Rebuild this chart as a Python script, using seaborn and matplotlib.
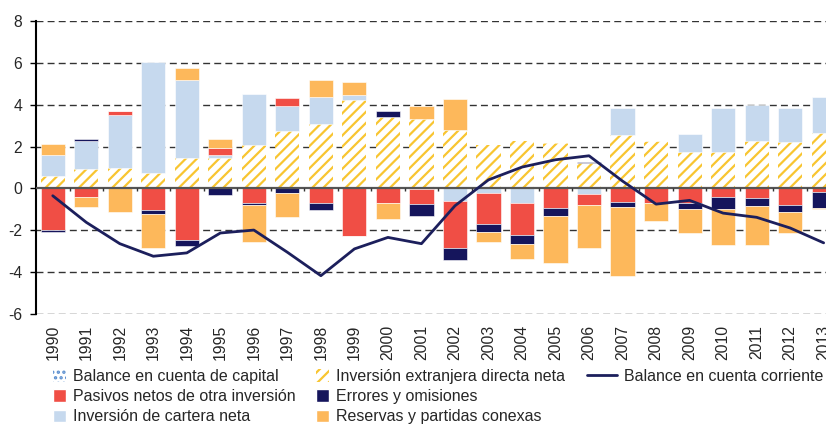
import numpy as np
import pandas as pd
import matplotlib
matplotlib.use("Agg")
import matplotlib.pyplot as plt
import seaborn as sns
from matplotlib.patches import Patch
from matplotlib.lines import Line2D

# balanza de pagos, % del PIB
years = list(range(1990, 2014))

capital = [0, 0, 0, 0, 0, 0, 0, 0, 0, 0, 0, 0, 0, 0, 0, 0,
           0.08, 0.08, 0.08, 0.08, 0.08, 0, 0, 0]
ied = [0.60, 0.92, 0.99, 0.75, 1.46, 1.46, 2.08, 2.75, 3.08, 4.23, 3.40, 3.31,
       2.80, 2.07, 2.29, 2.19, 1.13, 2.48, 2.19, 1.68, 1.65, 2.27, 2.23, 2.64]
cartera = [1.00, 1.37, 2.51, 5.29, 3.74, 0.14, 2.42, 1.19, 1.28, 0.24, 0, -0.05,
           -0.60, -0.20, -0.70, 0, -0.29, 1.27, 0, 0.85, 2.12, 1.70, 1.59, 1.73]
pasivos = [-2.00, -0.40, 0.20, -1.02, -2.45, 0.32, -0.70, 0.40, -0.72, -2.26, -0.70, -0.71,
           -2.23, -1.51, -1.54, -0.92, -0.51, -0.64, -0.72, -0.70, -0.43, -0.46, -0.78, -0.19]
errores = [-0.08, 0.08, 0, -0.20, -0.32, -0.32, -0.10, -0.24, -0.32, -0.03, 0.32, -0.57,
           -0.60, -0.38, -0.40, -0.41, 0.03, -0.24, 0, -0.29, -0.54, -0.37, -0.33, -0.73]
reservas = [0.53, -0.51, -1.14, -1.64, 0.57, 0.45, -1.76, -1.13, 0.81, 0.62, -0.75, 0.63,
            1.48, -0.48, -0.73, -2.24, -2.05, -3.32, -0.86, -1.15, -1.75, -1.86, -1.02, -0.06]
cuenta_corriente = [-0.35, -1.62, -2.64, -3.24, -3.08, -2.13, -1.99, -3.05, -4.17, -2.89,
                    -2.34, -2.64, -0.83, 0.41, 1.02, 1.37, 1.56, 0.35, -0.75, -0.57,
                    -1.18, -1.38, -1.89, -2.60]

labels = {
    "capital": "Balance en cuenta de capital",
    "pasivos": "Pasivos netos de otra inversión",
    "cartera": "Inversión de cartera neta",
    "ied": "Inversión extranjera directa neta",
    "errores": "Errores y omisiones",
    "reservas": "Reservas y partidas conexas",
    "cc": "Balance en cuenta corriente",
}

RED = "#F04E45"
LIGHT_BLUE = "#C6D9EE"
ORANGE = "#FDB85B"
NAVY = "#15155C"
YELLOW = "#F8C531"
DOT_BLUE = "#5B8FCF"
LINE = "#1C1F5C"

sns.set_theme(style="white")
plt.rcParams["font.family"] = ["Liberation Sans", "DejaVu Sans"]
plt.rcParams["hatch.linewidth"] = 1.6

fig = plt.figure(figsize=(8.26, 4.26), dpi=100)
ax = fig.add_axes([36 / 826, 1 - 314 / 426, 1 - 36 / 826, (314 - 21) / 426])

x = np.arange(len(years))
width = 0.72

layers = [
    (capital, dict(facecolor="white", edgecolor=DOT_BLUE, hatch="...", linewidth=0)),
    (ied, dict(facecolor="white", edgecolor=YELLOW, hatch="///", linewidth=0)),
    (cartera, dict(color=LIGHT_BLUE, edgecolor="white", linewidth=0.4)),
    (pasivos, dict(color=RED, edgecolor="white", linewidth=0.4)),
    (errores, dict(color=NAVY, edgecolor="white", linewidth=0.4)),
    (reservas, dict(color=ORANGE, edgecolor="white", linewidth=0.4)),
]

pos_bottom = np.zeros(len(years))
neg_bottom = np.zeros(len(years))
for vals, style in layers:
    vals = np.asarray(vals, dtype=float)
    bottom = np.where(vals >= 0, pos_bottom, neg_bottom)
    ax.bar(x, vals, width=width, bottom=bottom, zorder=2, **style)
    pos_bottom += np.clip(vals, 0, None)
    neg_bottom += np.clip(vals, None, 0)

df_cc = pd.DataFrame({"x": x, "cc": cuenta_corriente})
sns.lineplot(data=df_cc, x="x", y="cc", ax=ax, color=LINE, linewidth=2, zorder=4)

# ejes y rejilla
ax.set_ylim(-6, 8)
ax.set_xlim(-0.5, 23.07)
ax.set_yticks(range(-6, 9, 2))
ax.set_yticklabels([str(v) for v in range(-6, 9, 2)])
for v in range(-6, 9, 2):
    if v != 0:
        ax.axhline(v, color="#333333", lw=1, linestyle=(0, (5, 3)), zorder=1)
ax.axhline(0, color="#555555", lw=1.6, zorder=3)
ax.vlines(x[:-1] + 0.5, -0.12, 0, color="#333333", lw=1, zorder=3)

ax.set_xticks(x)
ax.set_xticklabels([str(y) for y in years], rotation=90, fontsize=11.3)
ax.tick_params(axis="x", length=0, pad=8)
ax.tick_params(axis="y", direction="out", length=4, width=1, color="black",
               labelsize=11.3, pad=6, left=True)
for side in ["top", "right", "bottom"]:
    ax.spines[side].set_visible(False)
ax.spines["left"].set_color("black")
ax.spines["left"].set_linewidth(1.5)
ax.set_xlabel("")
ax.set_ylabel("")

# leyenda
handles = [
    Patch(facecolor="white", edgecolor=DOT_BLUE, hatch="...", linewidth=0, label=labels["capital"]),
    Patch(facecolor=RED, label=labels["pasivos"]),
    Patch(facecolor=LIGHT_BLUE, label=labels["cartera"]),
    Patch(facecolor="white", edgecolor=YELLOW, hatch="///", linewidth=0, label=labels["ied"]),
    Patch(facecolor=NAVY, label=labels["errores"]),
    Patch(facecolor=ORANGE, label=labels["reservas"]),
]
fig.legend(handles=handles, ncol=2, loc="upper left", bbox_to_anchor=(53 / 826, 1 - 369 / 426),
           frameon=False, fontsize=11.5, handlelength=0.8, handleheight=0.8,
           handletextpad=0.45, columnspacing=1.3, labelspacing=0.32,
           borderpad=0, borderaxespad=0)
fig.legend(handles=[Line2D([], [], color=LINE, lw=2, label=labels["cc"])],
           loc="upper left", bbox_to_anchor=(587 / 826, 1 - 369 / 426),
           frameon=False, fontsize=11.5, handlelength=1.9, handletextpad=0.4,
           borderpad=0, borderaxespad=0)

fig.savefig("out.png", dpi=100)
